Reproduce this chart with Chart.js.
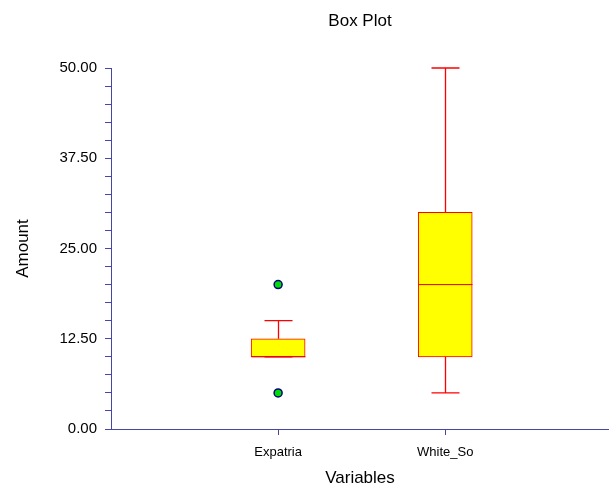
<!DOCTYPE html>
<html>
<head>
<meta charset="utf-8">
<script src="https://cdn.jsdelivr.net/npm/chart.js@4"></script>
<style>
  html, body { margin: 0; padding: 0; background: #fff; }
  #wrap { width: 609px; height: 486px; }
</style>
</head>
<body>
<div id="wrap"><canvas id="c"></canvas></div>
<script>
// box plot stats per variable
const categories = ['Expatria', 'White_So'];
const positions = [1, 2];
const lowWhisker = [10, 5];
const q1 = [10, 10];
const median = [10, 20];
const q3 = [12.5, 30];
const highWhisker = [15, 50];
const outliers = [[20, 5], []];
const yTicks = [0, 12.5, 25, 37.5, 50];

const axisColor = '#4646a6';

const boxes = positions.map((p, i) => ({ x: p, y: [q1[i], q3[i]] }));
const outlierPts = [];
outliers.forEach((list, i) => list.forEach(v => outlierPts.push({ x: positions[i], y: v })));

// whiskers, caps, medians and category tick marks drawn with the chart's scales
const boxExtras = {
  id: 'boxExtras',
  afterDraw(chart) {
    const { ctx, chartArea, scales: { x, y } } = chart;
    ctx.save();
    positions.forEach((p, i) => {
      const px = Math.round(x.getPixelForValue(p)) + 0.5;
      const capHalf = 14;
      const yLo = y.getPixelForValue(lowWhisker[i]);
      const yQ1 = y.getPixelForValue(q1[i]);
      const yQ3 = y.getPixelForValue(q3[i]);
      const yHi = y.getPixelForValue(highWhisker[i]);
      const yMed = y.getPixelForValue(median[i]);
      ctx.strokeStyle = '#ff0000';
      ctx.lineWidth = 1.3;
      ctx.beginPath();
      ctx.moveTo(px, yQ3); ctx.lineTo(px, yHi);
      ctx.moveTo(px - capHalf, yHi); ctx.lineTo(px + capHalf, yHi);
      ctx.moveTo(px, yQ1); ctx.lineTo(px, yLo);
      ctx.moveTo(px - capHalf, yLo); ctx.lineTo(px + capHalf, yLo);
      ctx.stroke();
      ctx.strokeStyle = '#dd0000';
      ctx.lineWidth = 1;
      ctx.beginPath();
      ctx.moveTo(px - 27, yMed); ctx.lineTo(px + 27, yMed);
      ctx.stroke();
      // category tick below the axis
      ctx.strokeStyle = axisColor;
      ctx.lineWidth = 1;
      ctx.beginPath();
      ctx.moveTo(px, chartArea.bottom);
      ctx.lineTo(px, chartArea.bottom + 6);
      ctx.stroke();
    });
    ctx.restore();
  }
};

new Chart(document.getElementById('c'), {
  type: 'bar',
  data: {
    datasets: [
      {
        type: 'bar',
        data: boxes,
        backgroundColor: '#ffff00',
        borderColor: '#ff0000',
        borderWidth: 1,
        borderSkipped: false,
        barThickness: 54,
        order: 2
      },
      {
        type: 'scatter',
        data: outlierPts,
        backgroundColor: '#00dd00',
        borderColor: '#000080',
        borderWidth: 1.5,
        pointRadius: 4,
        clip: false,
        order: 1
      }
    ]
  },
  options: {
    responsive: true,
    maintainAspectRatio: false,
    animation: false,
    layout: { padding: 0, autoPadding: false },
    plugins: {
      legend: { display: false },
      tooltip: { enabled: false },
      title: {
        display: true,
        fullSize: false,
        text: 'Box Plot',
        color: '#000',
        font: { family: 'Liberation Sans, Arial', size: 17, weight: 'normal' },
        padding: { top: 11, bottom: 36.6 }
      }
    },
    scales: {
      x: {
        type: 'linear',
        min: 0,
        max: 2.98,
        offset: false,
        afterBuildTicks(s) { s.ticks = positions.map(v => ({ value: v })); },
        afterFit(s) { s.height = 57; s.paddingLeft = 0; s.paddingRight = 0; },
        ticks: {
          callback: (v) => categories[positions.indexOf(v)] ?? '',
          color: '#000',
          font: { family: 'Liberation Sans, Arial', size: 13 },
          padding: 8,
          maxRotation: 0
        },
        grid: { display: false },
        border: { display: true, color: axisColor, width: 1 },
        title: {
          display: true,
          text: 'Variables',
          color: '#000',
          font: { family: 'Liberation Sans, Arial', size: 17 },
          padding: { top: 0, bottom: -3 }
        }
      },
      y: {
        min: 0,
        max: 50,
        afterBuildTicks(s) {
          const t = [];
          for (let v = 0; v <= 50; v += 2.5) t.push({ value: v });
          s.ticks = t;
        },
        afterFit(s) { s.width = 111; },
        ticks: {
          callback: (v) => yTicks.includes(v) ? v.toFixed(2) : '',
          color: '#000',
          font: { family: 'Liberation Sans, Arial', size: 15 },
          padding: 8,
          autoSkip: false
        },
        grid: {
          drawOnChartArea: false,
          color: axisColor,
          tickLength: 6
        },
        border: { color: axisColor, width: 1 },
        title: {
          display: true,
          text: 'Amount',
          color: '#000',
          font: { family: 'Liberation Sans, Arial', size: 17 },
          padding: { top: 13, bottom: 0 }
        }
      }
    }
  },
  plugins: [boxExtras]
});
</script>
</body>
</html>
